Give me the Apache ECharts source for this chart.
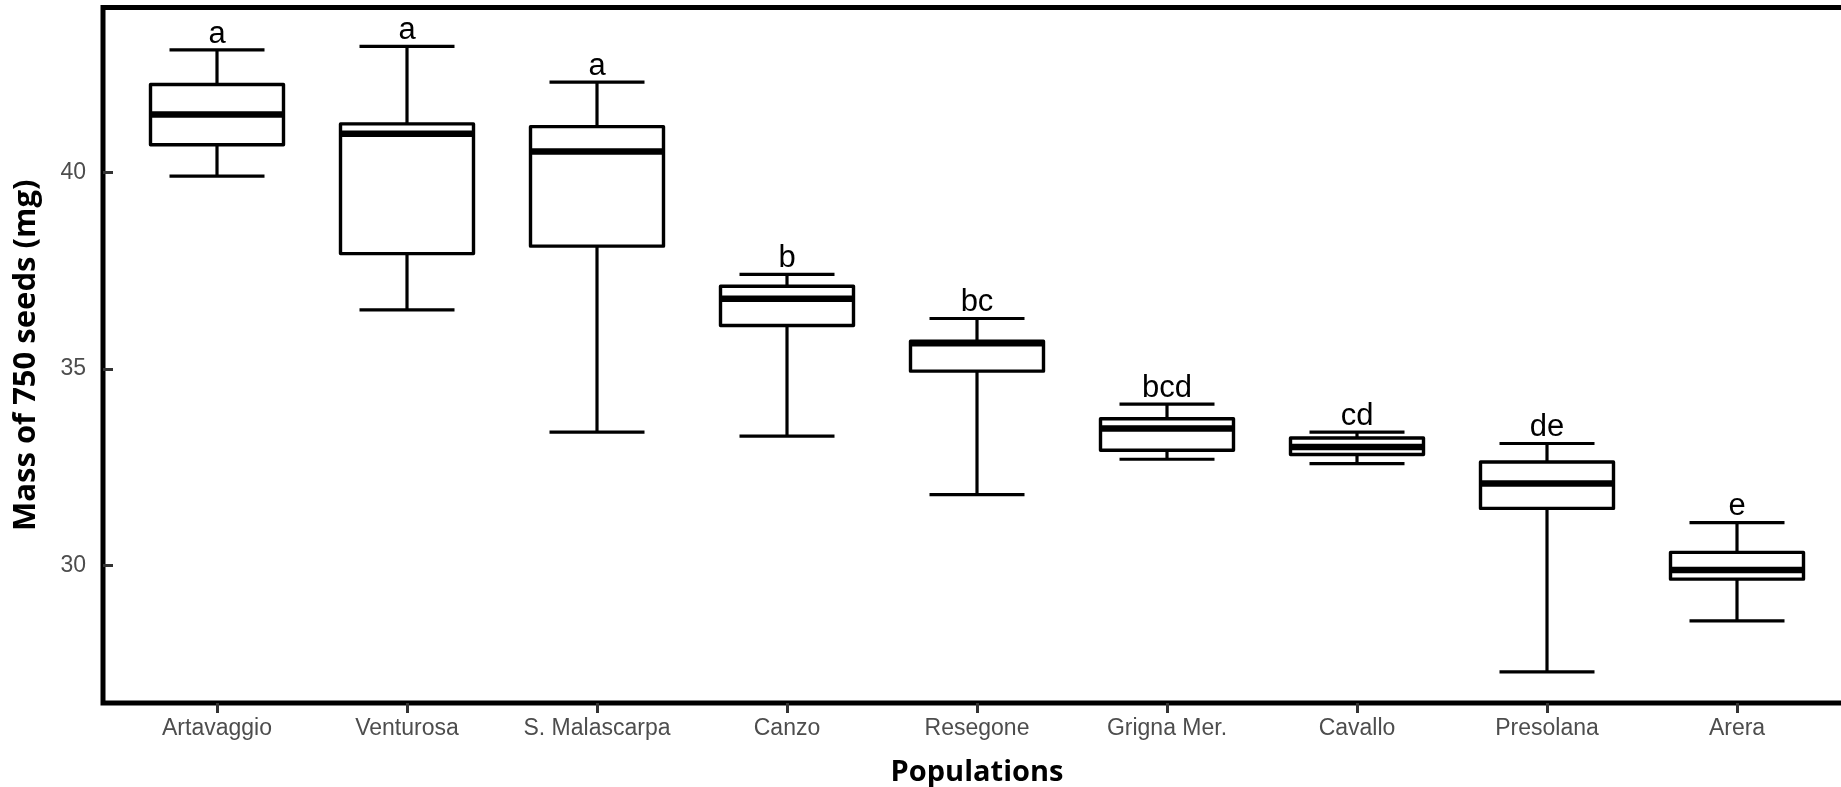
<!DOCTYPE html>
<html>
<head>
<meta charset="utf-8">
<script src="https://cdn.jsdelivr.net/npm/echarts@6/dist/echarts.min.js"></script>
<style>
html,body{margin:0;padding:0;background:#fff;}
#chart{width:1841px;height:787px;}
</style>
</head>
<body>
<div id="chart"></div>
<script>
const categories = ['Artavaggio','Venturosa','S. Malascarpa','Canzo','Resegone','Grigna Mer.','Cavallo','Presolana','Arera'];
const lowWhisker  = [39.90, 36.50, 33.39, 33.29, 31.80, 32.70, 32.59, 27.29, 28.59];
const q1          = [40.70, 37.93, 38.12, 36.10, 34.94, 32.93, 32.82, 31.45, 29.65];
const median      = [41.47, 40.98, 40.53, 36.78, 35.65, 33.48, 33.01, 32.08, 29.88];
const q3          = [42.23, 41.23, 41.16, 37.10, 35.70, 33.73, 33.24, 32.63, 30.33];
const highWhisker = [43.11, 43.20, 42.29, 37.40, 36.28, 34.10, 33.39, 33.10, 31.09];
const letters     = ['a','a','a','b','bc','bcd','cd','de','e'];
const yTicks = [30, 35, 40];

const data = categories.map((c, i) => [i, lowWhisker[i], q1[i], median[i], q3[i], highWhisker[i], letters[i]]);
const catIdx = categories.map((c, i) => i);

const chart = echarts.init(document.getElementById('chart'), null, {renderer: 'canvas'});

function renderItem(params, api) {
  const x = api.value(0);
  const unit = api.size([1, 0])[0];
  const boxHalf = 0.35 * unit;
  const capHalf = 0.25 * unit;
  const pLow = api.coord([x, api.value(1)]);
  const pQ1 = api.coord([x, api.value(2)]);
  const pMed = api.coord([x, api.value(3)]);
  const pQ3 = api.coord([x, api.value(4)]);
  const pHigh = api.coord([x, api.value(5)]);
  const cx = pMed[0];
  const lineStyle = {stroke: '#000', lineWidth: 3.2, fill: null};
  return {
    type: 'group',
    children: [
      {type: 'line', shape: {x1: cx, y1: pHigh[1], x2: cx, y2: pQ3[1]}, style: lineStyle},
      {type: 'line', shape: {x1: cx, y1: pQ1[1], x2: cx, y2: pLow[1]}, style: lineStyle},
      {type: 'line', shape: {x1: cx - capHalf, y1: pHigh[1], x2: cx + capHalf, y2: pHigh[1]}, style: lineStyle},
      {type: 'line', shape: {x1: cx - capHalf, y1: pLow[1], x2: cx + capHalf, y2: pLow[1]}, style: lineStyle},
      {type: 'rect', shape: {x: cx - boxHalf, y: pQ3[1], width: 2 * boxHalf, height: pQ1[1] - pQ3[1]},
        style: {fill: '#fff', stroke: '#000', lineWidth: 3.4, lineJoin: 'round'}},
      {type: 'line', shape: {x1: cx - boxHalf, y1: pMed[1], x2: cx + boxHalf, y2: pMed[1]},
        style: {stroke: '#000', lineWidth: 6.5}},
      {type: 'text', x: cx, y: pHigh[1] - 0.5,
        style: {text: api.value(6), fill: '#000', font: '31px "Liberation Sans", Arial, sans-serif',
          textAlign: 'center', textVerticalAlign: 'bottom'}}
    ]
  };
}

const option = {
  backgroundColor: '#fff',
  animation: false,
  grid: {
    left: 103, top: 7.5, width: 1748, height: 695.5,
    outerBoundsMode: 'none', containLabel: false,
    show: true, borderColor: '#000', borderWidth: 5, backgroundColor: 'transparent'
  },
  xAxis: {
    type: 'value', min: -0.6, max: 8.6,
    name: 'Populations', nameLocation: 'middle', nameGap: 55,
    nameTextStyle: {fontFamily: 'Open Sans', fontWeight: 'bold', fontSize: 29, color: '#000'},
    axisLine: {show: false, onZero: false},
    splitLine: {show: false},
    axisTick: {show: true, customValues: catIdx, length: 10, lineStyle: {color: '#333', width: 3}},
    axisLabel: {customValues: catIdx, margin: 14, fontFamily: 'Liberation Sans', fontSize: 23, color: '#4d4d4d',
      formatter: v => categories[Math.round(v)]}
  },
  yAxis: {
    type: 'value', min: 26.5, max: 44.19,
    name: 'Mass of 750 seeds (mg)', nameLocation: 'middle', nameGap: 61, nameRotate: 90,
    nameTextStyle: {fontFamily: 'Open Sans', fontWeight: 'bold', fontSize: 31, color: '#000'},
    axisLine: {show: false, onZero: false},
    splitLine: {show: false},
    axisTick: {show: true, inside: true, customValues: yTicks, length: 10, lineStyle: {color: '#333', width: 3}},
    axisLabel: {customValues: yTicks, margin: 17, fontFamily: 'Liberation Sans', fontSize: 23, color: '#4d4d4d'}
  },
  series: [{
    type: 'custom',
    renderItem: renderItem,
    encode: {x: 0, y: [1, 2, 3, 4, 5]},
    data: data,
    clip: false
  }]
};
chart.setOption(option);
</script>
</body>
</html>
